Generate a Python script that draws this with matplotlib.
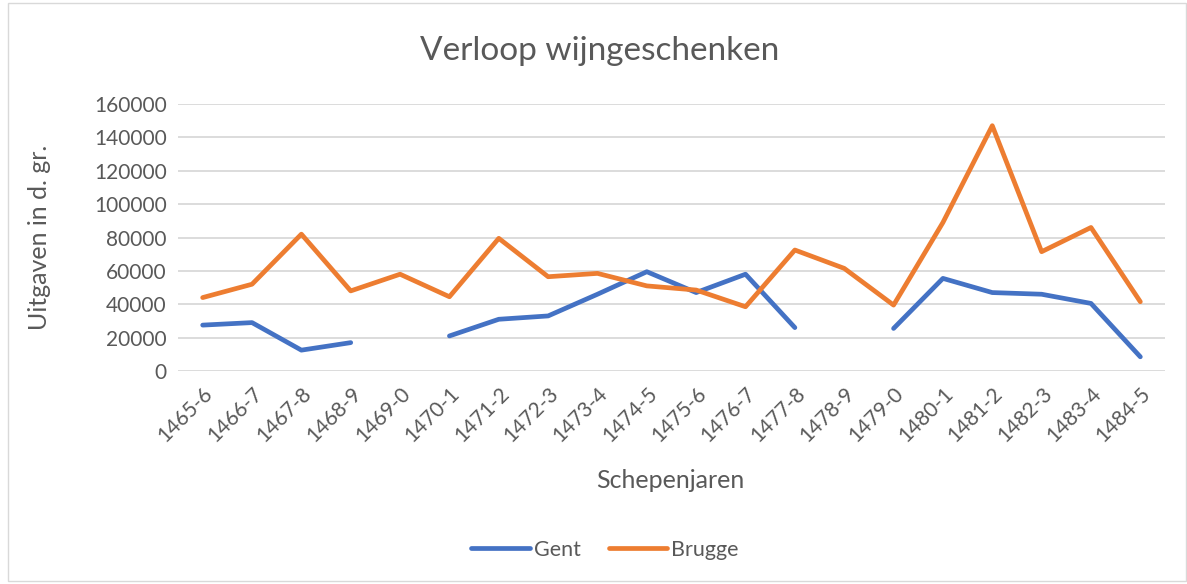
import matplotlib
matplotlib.use("Agg")
import matplotlib.pyplot as plt
import numpy as np
from matplotlib.patches import Rectangle

categories = ["1465-6", "1466-7", "1467-8", "1468-9", "1469-0", "1470-1", "1471-2",
              "1472-3", "1473-4", "1474-5", "1475-6", "1476-7", "1477-8", "1478-9",
              "1479-0", "1480-1", "1481-2", "1482-3", "1483-4", "1484-5"]
gent = [27500, 29000, 12500, 17000, np.nan, 21000, 31000, 33000, 46000, 59500,
        47000, 58000, 26000, np.nan, 25500, 55500, 47000, 46000, 40500, 8500]
brugge = [44000, 52000, 82000, 48000, 58000, 44500, 79500, 56500, 58500, 51000,
          48500, 38500, 72500, 61500, 39500, 89000, 147000, 71500, 86000, 41500]
yticks = [0, 20000, 40000, 60000, 80000, 100000, 120000, 140000, 160000]

plt.rcParams['font.family'] = ['Lato', 'DejaVu Sans']
txt = '#595959'

fig = plt.figure(figsize=(11.87, 5.84), dpi=100)
fig.patches.append(Rectangle((8/1187, 0.005), 1 - 8/1187 - 0.001, 0.99, transform=fig.transFigure,
                             fill=False, edgecolor='#d9d9d9', linewidth=1))
ax = fig.add_axes([178/1187, 1 - 371/584, (1165 - 178)/1187, (371 - 104)/584])
x = np.arange(len(categories))
ax.plot(x, gent, color='#4472C4', linewidth=3.4, solid_capstyle='round', label='Gent')
ax.plot(x, brugge, color='#ED7D31', linewidth=3.4, solid_capstyle='round', label='Brugge')
ax.set_xlim(-0.5, len(categories) - 0.5)
ax.set_ylim(0, 160000)
ax.set_yticks(yticks)
ax.set_yticklabels([str(v) for v in yticks], fontsize=15, color=txt)
ax.set_xticks(x)
ax.set_xticklabels(categories, rotation=45, ha='right', rotation_mode='anchor', fontsize=15, color=txt)
ax.tick_params(axis='both', length=0, pad=8)
ax.tick_params(axis='x', pad=9)
ax.grid(axis='y', color='#d9d9d9', linewidth=1.3)
ax.set_axisbelow(True)
for s in ax.spines.values():
    s.set_visible(False)
fig.text(600/1187, 1 - 51/584, 'Verloop wijngeschenken', fontsize=24, color=txt, ha='center', va='center')
fig.text(40/1187, 1 - 237/584, 'Uitgaven in d. gr.', fontsize=18, color=txt, ha='center', va='center',
         rotation=90)
fig.text(670/1187, 1 - 480/584, 'Schepenjaren', fontsize=18, color=txt, ha='center', va='center')
fig.legend(loc='center', bbox_to_anchor=(605/1187, 1 - 550/584), ncol=2, frameon=False,
           fontsize=15.5, labelcolor=txt, handlelength=2.7, handletextpad=0.2, columnspacing=1.3)
fig.savefig('out.png', dpi=100)
